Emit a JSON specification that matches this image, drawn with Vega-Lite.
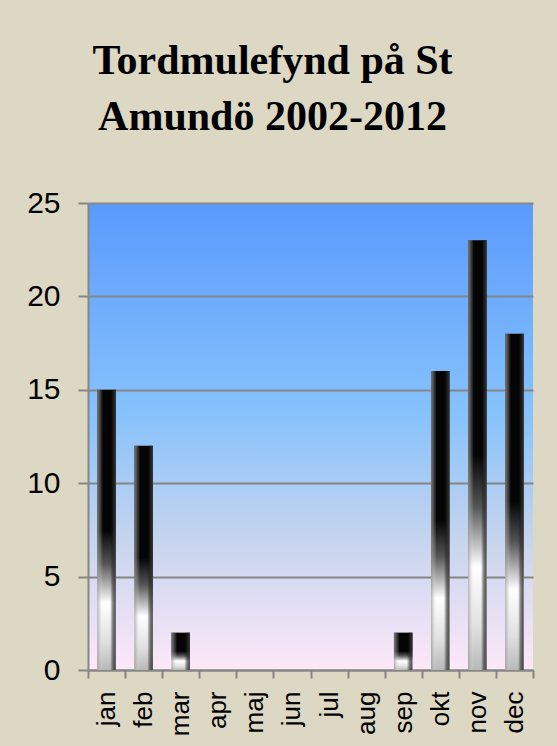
{
  "$schema": "https://vega.github.io/schema/vega-lite/v6.json",
  "autosize": {"type": "none"},
  "padding": {"left": 88, "top": 203, "right": 24, "bottom": 76},
  "width": 445,
  "height": 467,
  "background": "#DDD8C4",
  "title": {
    "text": ["Tordmulefynd på St", "Amundö 2002-2012"],
    "font": "Liberation Serif",
    "fontWeight": "bold",
    "fontSize": 42,
    "lineHeight": 56,
    "color": "#000000",
    "anchor": "middle",
    "dx": -38,
    "offset": 49
  },
  "data": {
    "values": [
      {"month": "jan", "count": 15},
      {"month": "feb", "count": 12},
      {"month": "mar", "count": 2},
      {"month": "apr", "count": 0},
      {"month": "maj", "count": 0},
      {"month": "jun", "count": 0},
      {"month": "jul", "count": 0},
      {"month": "aug", "count": 0},
      {"month": "sep", "count": 2},
      {"month": "okt", "count": 16},
      {"month": "nov", "count": 23},
      {"month": "dec", "count": 18}
    ]
  },
  "encoding": {
    "x": {
      "field": "month",
      "type": "nominal",
      "sort": null,
      "title": null,
      "scale": {"paddingInner": 0, "paddingOuter": 0},
      "axis": {
        "labelAngle": 270,
        "labelAlign": "right",
        "labelBaseline": "middle",
        "labelFont": "Liberation Sans",
        "labelFontSize": 26,
        "labelColor": "#000000",
        "labelPadding": 13,
        "tickBand": "extent",
        "tickSize": 8,
        "tickColor": "#868686",
        "tickWidth": 2,
        "domainColor": "#868686",
        "domainWidth": 2,
        "grid": false
      }
    },
    "y": {
      "field": "count",
      "type": "quantitative",
      "title": null,
      "scale": {"domain": [0, 25], "nice": false},
      "axis": {
        "values": [0, 5, 10, 15, 20, 25],
        "labelFont": "Liberation Sans",
        "labelFontSize": 30,
        "labelColor": "#000000",
        "labelPadding": 18,
        "tickSize": 10,
        "tickColor": "#868686",
        "tickWidth": 2,
        "domainColor": "#868686",
        "domainWidth": 2,
        "grid": true,
        "gridColor": "#868686",
        "gridWidth": 2
      }
    }
  },
  "layer": [
    {
      "mark": {
        "type": "bar",
        "width": {"band": 0.5},
        "color": {
          "gradient": "linear",
          "x1": 0, "y1": 0, "x2": 0, "y2": 1,
          "stops": [
            {"offset": 0, "color": "#050505"},
            {"offset": 0.5, "color": "#050505"},
            {"offset": 0.62, "color": "#555555"},
            {"offset": 0.76, "color": "#ffffff"},
            {"offset": 0.9, "color": "#e0e0e0"},
            {"offset": 1, "color": "#b8b8b8"}
          ]
        }
      }
    },
    {
      "mark": {
        "type": "bar",
        "width": {"band": 0.5},
        "color": {
          "gradient": "linear",
          "x1": 0, "y1": 0, "x2": 1, "y2": 0,
          "stops": [
            {"offset": 0, "color": "rgba(150,150,150,0.75)"},
            {"offset": 0.18, "color": "rgba(200,200,200,0.25)"},
            {"offset": 0.3, "color": "rgba(255,255,255,0)"},
            {"offset": 0.7, "color": "rgba(0,0,0,0)"},
            {"offset": 0.85, "color": "rgba(40,40,40,0.6)"},
            {"offset": 1, "color": "rgba(60,60,60,0.9)"}
          ]
        }
      }
    }
  ],
  "config": {
    "view": {
      "stroke": null,
      "fill": {
        "gradient": "linear",
        "x1": 0, "y1": 0, "x2": 0, "y2": 1,
        "stops": [
          {"offset": 0, "color": "#5a9afc"},
          {"offset": 0.45, "color": "#86c2fc"},
          {"offset": 0.72, "color": "#c6d4ee"},
          {"offset": 1, "color": "#fde8f8"}
        ]
      }
    }
  }
}
